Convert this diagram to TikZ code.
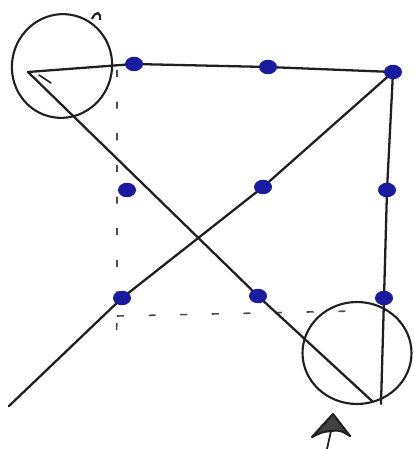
\documentclass[tikz,border=0pt]{standalone}
\usetikzlibrary{shapes.geometric}
\definecolor{azulPunto}{RGB}{26,28,160}
\definecolor{trazo}{RGB}{32,32,32}

\newcommand{\coordPuntos}{
\coordinate (A) at (134,64);
\coordinate (B) at (268,67);
\coordinate (C) at (393,72);
\coordinate (D) at (127,190);
\coordinate (E) at (263,187);
\coordinate (F) at (387,190);
\coordinate (G) at (122,298);
\coordinate (H) at (258,296);
\coordinate (I) at (384,298);
}
\newcommand{\coordExtremos}{
\coordinate (inicio) at (28,72);
\coordinate (finIzq) at (9,406);
\coordinate (finDer) at (381,404);
\coordinate (finDiag) at (372,401);
\coordinate (guiaSup) at (117,70);
\coordinate (guiaEsq) at (117,316);
\coordinate (guiaInf) at (116,352);
\coordinate (guiaDer) at (354,311);
}
\newcommand{\nodosPuntos}{
\foreach \n in {A,B,C,D,E,F,G,H,I}{
\node[punto] (p\n) at (\n) {};
}
}
\tikzset{
punto/.style={ellipse,fill=azulPunto,minimum width=0.36cm,minimum height=0.29cm,inner sep=0pt},
linea/.style={trazo,line width=1.3pt,line join=round,line cap=round},
guia/.style={trazo!80,line width=0.9pt,dash pattern=on 4pt off 14pt},
circulo/.style={trazo,line width=1.2pt}
}

\begin{document}
\begin{tikzpicture}[x=0.02cm,y=-0.02cm]
    \useasboundingbox (0,0) rectangle (413,449);
    \coordPuntos
    \coordExtremos

    % guias
    \draw[guia] (guiaSup)--(guiaEsq)--(guiaInf);
    \draw[guia] (guiaEsq)--(guiaDer);

    % las cuatro rectas
    \draw[linea] (inicio)--(A)--(B)--(C);
    \draw[linea] (C)--(E)--(G)--(finIzq);
    \draw[linea] (C)--(F)--(I)--(finDer);
    \draw[linea] (inicio)--(H)--(finDiag);
    \draw[linea,line width=0.9pt] (39,75)--(51,83);

    % circulos de los giros
    \node[circulo,ellipse,draw,minimum width=2.0cm,minimum height=2.08cm,rotate=-15] (giroSup) at (62,66) {};
    \draw[circulo] (92,19) .. controls (96,10) and (101,12) .. (100,20);
    \node[circulo,ellipse,draw,minimum width=2.18cm,minimum height=2.04cm] (giroInf) at (357,353) {};

    % flecha
    \coordinate (punta) at (333,414);
    \coordinate (cola) at (327,449);
    \filldraw[trazo,fill=trazo!85,line width=1.2pt,line join=round] (312,437)--(punta)--(350,436) .. controls (340,430) .. (331,431) .. controls (322,432) .. cycle;
    \draw[linea,line width=1pt] (331,431)--(cola);

    \nodosPuntos
\end{tikzpicture}
\end{document}
